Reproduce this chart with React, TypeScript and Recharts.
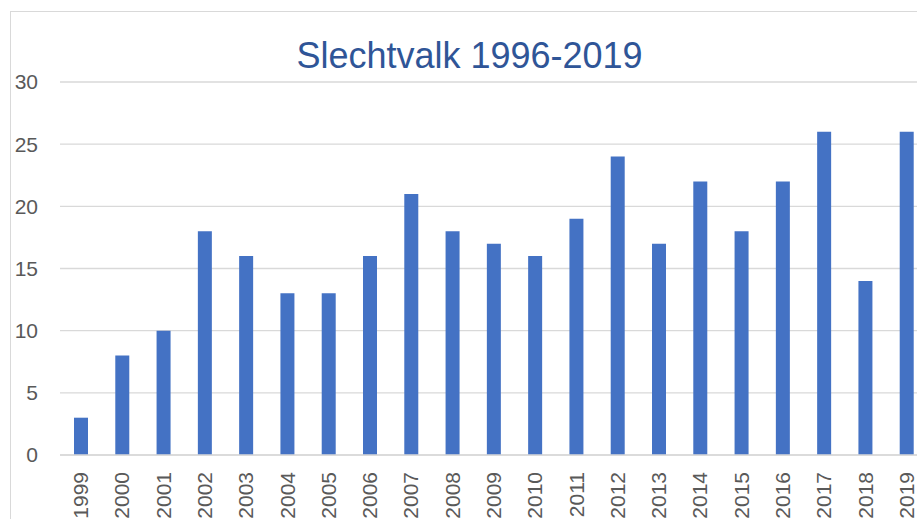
import { BarChart, Bar, XAxis, YAxis, CartesianGrid } from "recharts";

const years = [
  "1999", "2000", "2001", "2002", "2003", "2004", "2005", "2006", "2007", "2008", "2009",
  "2010", "2011", "2012", "2013", "2014", "2015", "2016", "2017", "2018", "2019",
];
const counts = [3, 8, 10, 18, 16, 13, 13, 16, 21, 18, 17, 16, 19, 24, 17, 22, 18, 22, 26, 14, 26];
const yTicks = [0, 5, 10, 15, 20, 25, 30];

const FONT = "'Liberation Sans', Arial, sans-serif";

const data = years.map((year, i) => ({ year, count: counts[i] }));

// Rotated year labels, reading bottom to top
function YearTick({ x, y, payload }: { x: number; y: number; payload: { value: string } }) {
  const tx = x + 7.5;
  const ty = y + 17;
  return (
    <text
      x={tx}
      y={ty}
      transform={`rotate(-90, ${tx}, ${ty})`}
      textAnchor="end"
      fill="#595959"
      fontSize={21}
      fontFamily={FONT}
    >
      {payload.value}
    </text>
  );
}

export default function App() {
  return (
    <div
      style={{
        position: "fixed",
        left: 0,
        top: 0,
        width: 917,
        height: 519,
        overflow: "hidden",
        background: "#fff",
      }}
    >
      <div
        style={{
          position: "absolute",
          left: 10,
          top: 11,
          width: 1000,
          height: 600,
          border: "1px solid #d9d9d9",
        }}
      />
      <div
        style={{
          position: "absolute",
          left: 0,
          top: 38,
          width: 939,
          textAlign: "center",
          fontFamily: FONT,
          fontSize: 36,
          lineHeight: 1,
          color: "#2f5597",
        }}
      >
        Slechtvalk 1996-2019
      </div>
      <div style={{ position: "absolute", left: 11, top: 12 }}>
        <BarChart
          width={916}
          height={507}
          data={data}
          margin={{ top: 70, right: 0, left: 0, bottom: 0 }}
          barSize={14}
        >
          <CartesianGrid vertical={false} stroke="#d9d9d9" strokeWidth={1.3} />
          <XAxis
            dataKey="year"
            height={64}
            tickLine={false}
            tickSize={0}
            tickMargin={0}
            axisLine={{ stroke: "#d9d9d9", strokeWidth: 1.5 }}
            interval={0}
            tick={YearTick}
          />
          <YAxis
            width={49}
            domain={[0, 30]}
            ticks={yTicks}
            axisLine={false}
            tickLine={false}
            tickSize={0}
            tickMargin={22}
            tick={{ fill: "#595959", fontSize: 21, fontFamily: FONT }}
          />
          <Bar dataKey="count" fill="#4472c4" isAnimationActive={false} />
        </BarChart>
      </div>
    </div>
  );
}
